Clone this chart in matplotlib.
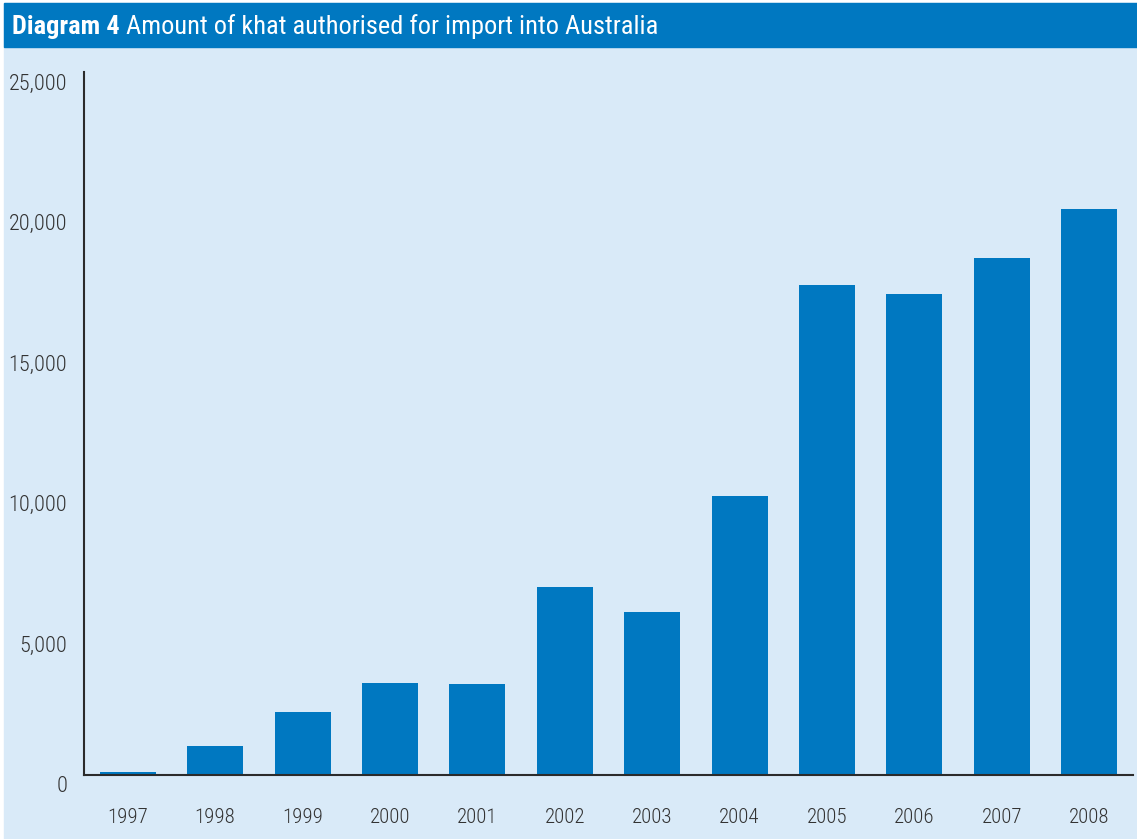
import numpy as np
import matplotlib
matplotlib.use('Agg')
from matplotlib import pyplot as plt
from matplotlib import transforms
from matplotlib.patches import Rectangle

plt.rcParams['font.family'] = ['Roboto Condensed', 'DejaVu Sans']

# khat authorised for import, per year
years = ['1997', '1998', '1999', '2000', '2001', '2002',
         '2003', '2004', '2005', '2006', '2007', '2008']
amounts = [100, 1030, 2240, 3270, 3240, 6690,
           5800, 9920, 17430, 17100, 18390, 20130]
yticks = [0, 5000, 10000, 15000, 20000, 25000]

BAR_COLOR = '#0078c1'
BAND_COLOR = '#0078c1'
BG_COLOR = '#d9eaf8'
TEXT_COLOR = '#333333'

fig = plt.figure(figsize=(11.37, 8.39), dpi=100)
fig.patch.set_facecolor('white')

# light panel and title band
W, H = 1137.0, 839.0
fig.patches.append(Rectangle((4 / W, 0), 1 - 4 / W, 1 - 3 / H,
                             transform=fig.transFigure, color=BG_COLOR, zorder=0))
fig.patches.append(Rectangle((4 / W, 1 - 47 / H), 1 - 4 / W, 44 / H,
                             transform=fig.transFigure, color=BAND_COLOR, zorder=1))

ax = fig.add_axes([84 / W, 1 - 775 / H, (1133 - 84) / W, (775 - 72) / H])
ax.set_zorder(5)
ax.set_facecolor('none')

x = np.arange(len(years))
ax.bar(x, amounts, width=0.64, color=BAR_COLOR, zorder=2)

ax.set_xlim(-0.5, len(years) - 0.5)
ax.set_ylim(0, 25000)
ax.set_xticks(x)
ax.set_xticklabels(years, fontweight='light')
ax.set_yticks(yticks)
ax.set_yticklabels([])

for side in ['top', 'right']:
    ax.spines[side].set_visible(False)
for side in ['left', 'bottom']:
    ax.spines[side].set_color('#2b2b2b')
    ax.spines[side].set_linewidth(1.5)
    ax.spines[side].set_zorder(3)

ax.tick_params(axis='both', length=0, labelsize=15, colors=TEXT_COLOR)
ax.tick_params(axis='x', pad=24)

# value labels sit a little below their level
shift = transforms.ScaledTranslation(-17 / 100.0, -12 / 100.0, fig.dpi_scale_trans)
for v in yticks:
    ax.text(0, v, '{:,}'.format(v), transform=ax.get_yaxis_transform() + shift,
            ha='right', va='center', fontsize=16, fontweight='light',
            color=TEXT_COLOR, clip_on=False)

# title: bold lead-in followed by regular text
t1 = fig.text(12 / W, 1 - 27 / H, 'Diagram 4', color='white', fontsize=19,
              fontweight='bold', va='center', ha='left')
fig.canvas.draw()
bb = t1.get_window_extent(renderer=fig.canvas.get_renderer())
fig.text((bb.x1 + 6) / W, 1 - 27 / H, 'Amount of khat authorised for import into Australia',
         color='white', fontsize=19, va='center', ha='left')

plt.savefig('out.png', dpi=100, facecolor=fig.get_facecolor())
